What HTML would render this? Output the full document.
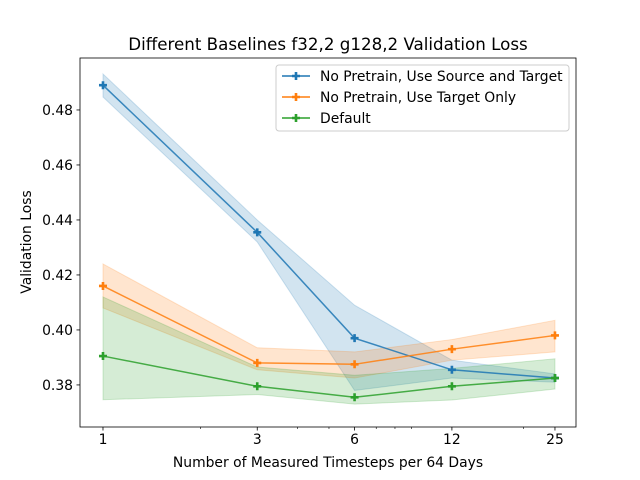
<!DOCTYPE html>
<html><head><meta charset="utf-8"><style>
body{margin:0;background:#fff}
svg{font-family:"DejaVu Sans","Liberation Sans",sans-serif;display:block}
</style></head><body>
<svg id="chart" width="640" height="480">
<rect width="640" height="480" fill="#fff"/>
<text x="328" y="50" font-size="16.7" text-anchor="middle">Different Baselines f32,2 g128,2 Validation Loss</text>
<g id="plot"></g>
<text x="328" y="467" font-size="13.9" text-anchor="middle">Number of Measured Timesteps per 64 Days</text>
<text transform="translate(31,242) rotate(-90)" font-size="13.9" text-anchor="middle">Validation Loss</text>
</svg>
<script>
const categories=[1,3,6,12,25];
const seriesNames=["No Pretrain, Use Source and Target","No Pretrain, Use Target Only","Default"];
const colors=["#1f77b4","#ff7f0e","#2ca02c"];
const blueMean=[0.489,0.4355,0.397,0.3855,0.3825];
const blueUpper=[0.4931,0.440,0.409,0.389,0.384];
const blueLower=[0.4847,0.432,0.378,0.3825,0.381];
const orangeMean=[0.416,0.388,0.3875,0.393,0.398];
const orangeUpper=[0.424,0.3935,0.392,0.3965,0.4035];
const orangeLower=[0.408,0.3855,0.3825,0.389,0.392];
const greenMean=[0.3905,0.3795,0.3755,0.3795,0.3825];
const greenUpper=[0.412,0.3865,0.3835,0.386,0.3895];
const greenLower=[0.3746,0.3765,0.373,0.3745,0.3785];
const yTicks=[0.38,0.40,0.42,0.44,0.46,0.48];
const xMinorTicks=[2,4,5,7,8,9,20];

const L=80,R=576,T=58,B=427;
const xMin=Math.log10(0.849),xMax=Math.log10(29.04);
const yMin=0.3647,yMax=0.4989;
const xs=v=>L+(Math.log10(v)-xMin)/(xMax-xMin)*(R-L);
const ys=v=>B-(v-yMin)/(yMax-yMin)*(B-T);
const NS="http://www.w3.org/2000/svg";
const g=document.getElementById('plot');
function mk(tag,attrs,parent){const e=document.createElementNS(NS,tag);for(const k in attrs)e.setAttribute(k,attrs[k]);(parent||g).appendChild(e);return e;}

const series=[[blueMean,blueUpper,blueLower],[orangeMean,orangeUpper,orangeLower],[greenMean,greenUpper,greenLower]];
series.forEach((s,i)=>{
  let d=categories.map((c,j)=>(j?'L':'M')+xs(c)+','+ys(s[1][j])).join(' ');
  for(let j=categories.length-1;j>=0;j--)d+=' L'+xs(categories[j])+','+ys(s[2][j]);
  const band=mk('path',{d:d+' Z',fill:colors[i],'fill-opacity':0.2,stroke:colors[i],'stroke-opacity':0.2});
  
  
});
series.forEach((s,i)=>{
  const pts=categories.map((c,j)=>xs(c)+','+ys(s[0][j])).join(' ');
  const line=mk('polyline',{points:pts,fill:'none',stroke:colors[i],'stroke-width':1.5,'stroke-opacity':0.85});
  
  
  categories.forEach((c,j)=>{
    const x=xs(c),y=ys(s[0][j]);
    const m=mk('path',{d:`M${x-4},${y-1.3}h2.7v-2.7h2.6v2.7h2.7v2.6h-2.7v2.7h-2.6v-2.7h-2.7z`,fill:colors[i]});
    
    
  });
});
const frame=mk('rect',{x:L,y:T,width:R-L,height:B-T,fill:'none',stroke:'#000','stroke-width':0.8});


categories.forEach(c=>{
  const x=xs(c);
  mk('line',{x1:x,x2:x,y1:B,y2:B+3.5,stroke:'#000','stroke-width':0.8});
  const t=mk('text',{x:x,y:B+17,'font-size':13.9,'text-anchor':'middle'});t.textContent=c;
  
  
});
xMinorTicks.forEach(c=>{const x=xs(c);mk('line',{x1:x,x2:x,y1:B,y2:B+2,stroke:'#000','stroke-width':0.6});});
yTicks.forEach(v=>{
  const y=ys(v);
  mk('line',{x1:L-3.5,x2:L,y1:y,y2:y,stroke:'#000','stroke-width':0.8});
  const t=mk('text',{x:L-7,y:y+5,'font-size':13.9,'text-anchor':'end'});t.textContent=v.toFixed(2);
  
  
});
const lg=mk('g',{});


mk('rect',{x:276,y:65,width:293,height:66,rx:3,fill:'#fff','fill-opacity':0.8,stroke:'#ccc'},lg);
seriesNames.forEach((n,i)=>{
  const y=76+i*21;
  const e=mk('g',{},lg);
  
  
  mk('line',{x1:282,x2:310,y1:y,y2:y,stroke:colors[i],'stroke-width':1.5},e);
  mk('path',{d:`M292,${y-1.3}h2.7v-2.7h2.6v2.7h2.7v2.6h-2.7v2.7h-2.6v-2.7h-2.7z`,fill:colors[i]},e);
  const t=mk('text',{x:320,y:y+5,'font-size':13.9},e);t.textContent=n;
});
</script>
</body></html>
